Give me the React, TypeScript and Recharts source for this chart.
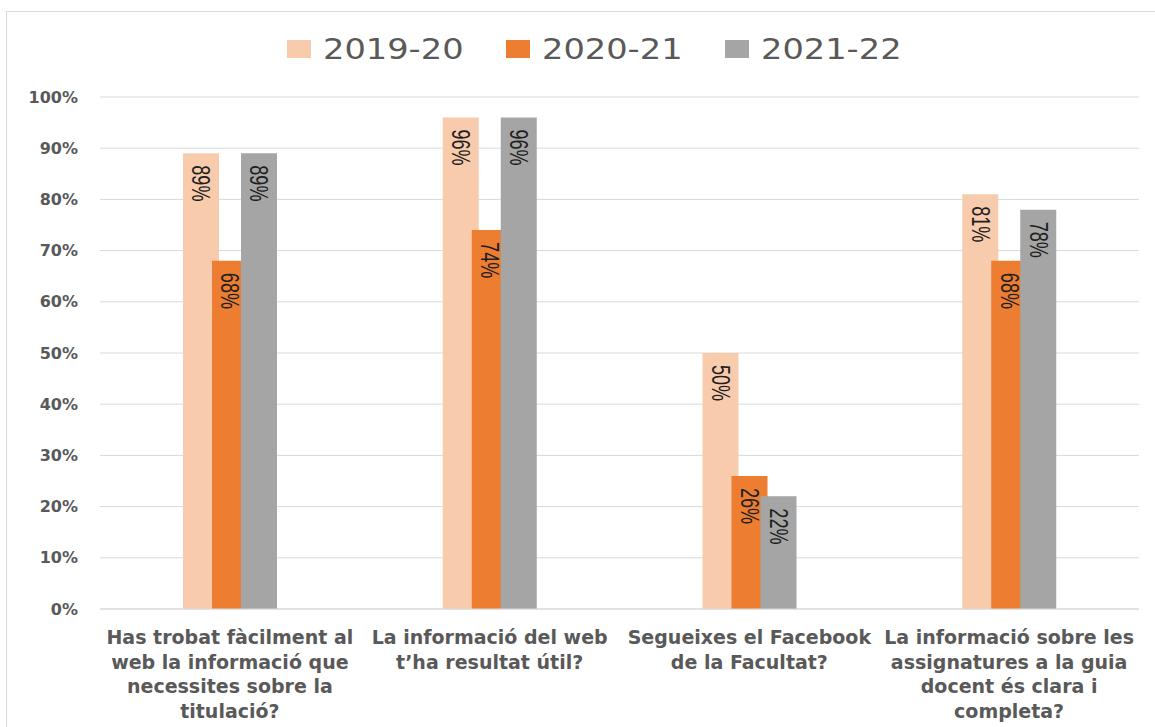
import React from 'react';
import { BarChart, Bar, XAxis, YAxis, CartesianGrid, Legend, LabelList } from 'recharts';

// Enquesta: informació web / guia docent, per curs acadèmic
const categories = [
  'Has trobat fàcilment al web la informació que necessites sobre la titulació?',
  'La informació del web t’ha resultat útil?',
  'Segueixes el Facebook de la Facultat?',
  'La informació sobre les assignatures a la guia docent és clara i completa?',
];
const tickLines = [
  ['Has trobat fàcilment al', 'web la informació que', 'necessites sobre la', 'titulació?'],
  ['La informació del web', 't’ha resultat útil?'],
  ['Segueixes el Facebook', 'de la Facultat?'],
  ['La informació sobre les', 'assignatures a la guia', 'docent és clara i', 'completa?'],
];
const y1920 = [89, 96, 50, 81];
const y2021 = [68, 74, 26, 68];
const y2122 = [89, 96, 22, 78];
const yTicks = [0, 10, 20, 30, 40, 50, 60, 70, 80, 90, 100];

const series = [
  { key: 's1920', name: '2019-20', color: '#F8CBAD' },
  { key: 's2021', name: '2020-21', color: '#ED7D31' },
  { key: 's2122', name: '2021-22', color: '#A5A5A5' },
];

const data = categories.map((c, i) => ({
  name: c,
  idx: i,
  s1920: y1920[i],
  s2021: y2021[i],
  s2122: y2122[i],
}));

const GREY = '#595959';
const GRID = '#D9D9D9';

// etiqueta girada 90°, una mica estreta i alta com a l'original
const BarValue = (props: any) => {
  const { x, y, width, value } = props;
  const cx = x + width / 2;
  const ty = y + 12;
  return (
    <g transform={`translate(${cx}, ${ty}) rotate(90) scale(0.86, 1.2)`}>
      <text
        x={0}
        y={0}
        textAnchor="start"
        dominantBaseline="central"
        fontFamily="'Liberation Sans', Arial, sans-serif"
        fontSize={21}
        fill="#1f1f1f"
      >
        {`${value}%`}
      </text>
    </g>
  );
};

const CategoryTick = (props: any) => {
  const { x, y, payload } = props;
  const lines = tickLines[payload.index] ?? [];
  return (
    <text
      x={x}
      y={y}
      textAnchor="middle"
      fontFamily="'DejaVu Sans', sans-serif"
      fontWeight="bold"
      fontSize={19}
      fill={GREY}
    >
      {lines.map((l, i) => (
        <tspan key={i} x={x} y={y + 35 + i * 24.5}>{l}</tspan>
      ))}
    </text>
  );
};

const LegendTop = () => (
  <div style={{ display: 'flex', alignItems: 'flex-start', boxSizing: 'border-box', height: 80, paddingTop: 15, paddingLeft: 267, fontFamily: "'DejaVu Sans', sans-serif" }}>
    {series.map((s) => (
      <div key={s.key} style={{ display: 'flex', alignItems: 'center', height: 34, marginRight: 62 }}>
        <span style={{ width: 24, height: 18, background: s.color, display: 'inline-block', marginRight: 12 }} />
        <span style={{ fontSize: 29, color: GREY, lineHeight: '34px', display: 'inline-block', transform: 'scaleX(1.16)', transformOrigin: 'left center' }}>{s.name}</span>
      </div>
    ))}
  </div>
);

export default function App() {
  return (
    <div style={{ position: 'absolute', left: 6, top: 11, border: `1px solid ${GRID}`, background: '#fff' }}>
      <BarChart
        width={1150}
        height={716}
        data={data}
        margin={{ top: 5, right: 18, bottom: 14, left: 13 }}
        barSize={36}
        barGap={-7}
      >
        <CartesianGrid vertical={false} stroke={GRID} strokeWidth={1} />
        <Legend verticalAlign="top" align="left" content={<LegendTop />} />
        <XAxis
          dataKey="idx"
          tick={<CategoryTick />}
          tickLine={false}
          tickSize={0}
          tickMargin={0}
          axisLine={{ stroke: GRID }}
          height={105}
          interval={0}
        />
        <YAxis
          domain={[0, 100]}
          ticks={yTicks}
          tickFormatter={(v: number) => `${v}%`}
          axisLine={false}
          tickLine={false}
          tickSize={0}
          tickMargin={22}
          width={80}
          tick={{ fontFamily: "'DejaVu Sans', sans-serif", fontWeight: 'bold', fontSize: 16, fill: GREY }}
        />
        {series.map((s) => (
          <Bar key={s.key} dataKey={s.key} name={s.name} fill={s.color} isAnimationActive={false}>
            <LabelList dataKey={s.key} content={<BarValue />} />
          </Bar>
        ))}
      </BarChart>
    </div>
  );
}
